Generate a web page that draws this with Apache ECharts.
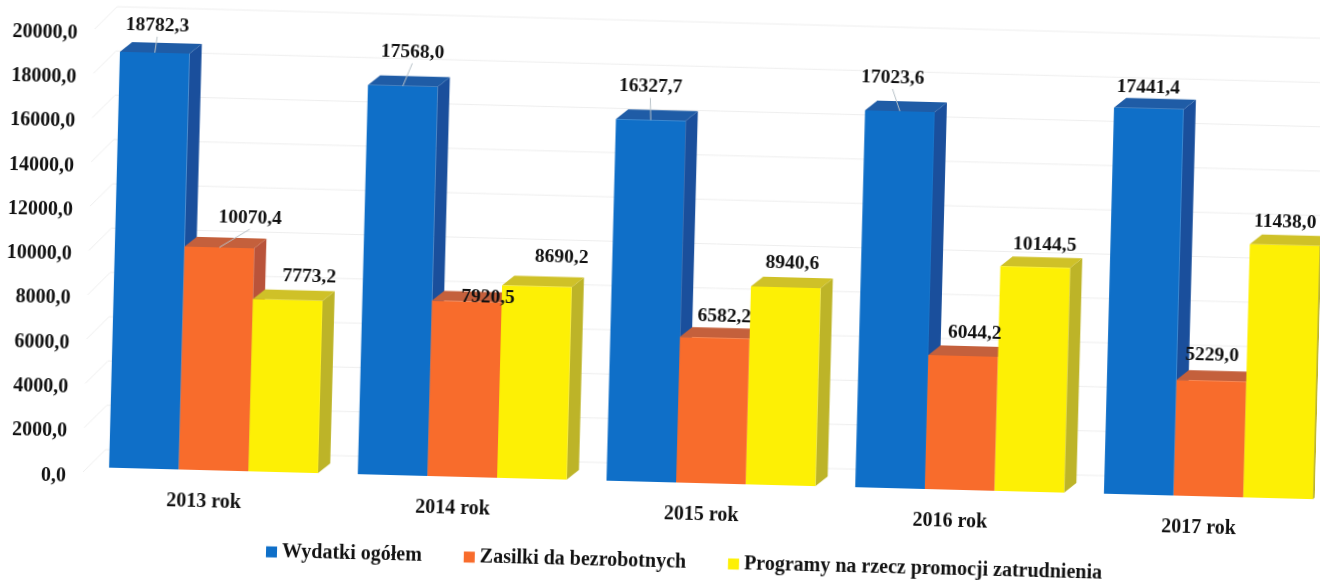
<!DOCTYPE html>
<html>
<head>
<meta charset="utf-8">
<style>
html,body{margin:0;padding:0;background:#fff;overflow:hidden;width:1320px;height:580px}
#c{position:absolute;left:0;top:0;width:1320px;height:580px;transform:rotate(1.5deg);transform-origin:660px 290px}
</style>
<script src="https://cdn.jsdelivr.net/npm/echarts@6/dist/echarts.min.js"></script>
</head>
<body>
<div id="c"></div>
<script>
const categories = ['2013 rok','2014 rok','2015 rok','2016 rok','2017 rok'];
const wydatki  = [18782.3,17568.0,16327.7,17023.6,17441.4];
const zasilki  = [10070.4,7920.5,6582.2,6044.2,5229.0];
const programy = [7773.2,8690.2,8940.6,10144.5,11438.0];
const yTicks = [0,2000,4000,6000,8000,10000,12000,14000,16000,18000,20000];
const seriesNames = ['Wydatki ogółem','Zasilki da bezrobotnych','Programy na rzecz promocji zatrudnienia'];

const palette = [
  {front:'#0f6fc8',top:'#1f5ca6',side:'#1a4f9c'},
  {front:'#f86c2c',top:'#c4603c',side:'#b9533a'},
  {front:'#fdf005',top:'#cfc128',side:'#bdb428'}
];
const labelShift = [
  [[2,-27],[9,-34],[-1,-33],[-8,-33],[-1,-21]],
  [[30,-30],[21,-5],[9,-21],[11,-23],[0,-25]],
  [[21,-24],[24,-30],[6,-24],[9,-22],[0,-23]]
];
const font = 'bold 19.5px "Liberation Serif"';
const fmt = v => v.toFixed(1).replace('.',',');
const depthX = 12, depthY = 10, barShift = 9;

function barRenderer(idx){
  const c = palette[idx];
  return function(params, api){
    const i = api.value(0), v = api.value(1);
    const p = api.coord([i,v]), base = api.coord([i,0]);
    const w = api.size([1,0])[0]*0.28;
    const x0 = p[0]+barShift+(idx-1.5)*w, x1 = x0+w, y = p[1], y0 = base[1];
    const s = labelShift[idx][params.dataIndex];
    const cx = (x0+x1)/2;
    const children = [
      {type:'polygon',shape:{points:[[x1,y],[x1+depthX,y-depthY],[x1+depthX,y0-depthY],[x1,y0]]},style:{fill:c.side}},
      {type:'polygon',shape:{points:[[x0,y],[x1,y],[x1+depthX,y-depthY],[x0+depthX,y-depthY]]},style:{fill:c.top}},
      {type:'rect',shape:{x:x0,y:y,width:w,height:y0-y},style:{fill:c.front}}
    ];
    if(idx<2 && s[1]<=-26){
      children.push({type:'line',shape:{x1:cx+s[0],y1:y+s[1]+11,x2:cx,y2:y},style:{stroke:'#b8c2c8',lineWidth:1}});
    }
    children.push({type:'text',style:{text:fmt(v),x:cx+s[0],y:y+s[1],font:font,fill:'#111',align:'center',verticalAlign:'middle'},z2:10});
    return {type:'group',children:children};
  };
}
function wallRenderer(params, api){
  const v = api.value(0);
  const y = api.coord([0,v])[1];
  const cs = params.coordSys;
  return {type:'group',children:[
    {type:'polyline',shape:{points:[[cs.x+3,y+5],[cs.x+25,y-18],[cs.x+cs.width,y-18]]},style:{stroke:'#eeeeee',lineWidth:1,fill:'none'}}
  ]};
}
function barSeries(idx,values){
  return {name:seriesNames[idx],type:'custom',renderItem:barRenderer(idx),
    encode:{x:0,y:1},data:values.map((v,i)=>[i,v]),itemStyle:{color:palette[idx].front},clip:false,z:3};
}
const chart = echarts.init(document.getElementById('c'));
chart.setOption({
  animation:false,
  backgroundColor:'transparent',
  grid:{left:85,top:39,width:1244,height:443,containLabel:false,outerBoundsMode:'none'},
  legend:{data:seriesNames,left:268,top:547,itemWidth:11,itemHeight:11,itemGap:42,icon:'rect',
    textStyle:{fontFamily:'Liberation Serif',fontWeight:'bold',fontSize:20,color:'#111'}},
  xAxis:{type:'category',data:categories,axisTick:{show:false},axisLine:{show:false},
    axisLabel:{fontFamily:'Liberation Serif',fontWeight:'bold',fontSize:20,color:'#111',margin:22}},
  yAxis:{type:'value',min:0,max:20000,interval:2000,axisLine:{show:false},axisTick:{show:false},splitLine:{show:false},
    axisLabel:{fontFamily:'Liberation Serif',fontWeight:'bold',fontSize:20,color:'#111',margin:14,verticalAlign:'top',lineHeight:19,formatter:v=>fmt(v)}},
  series:[
    {name:'wall',type:'custom',renderItem:wallRenderer,encode:{y:0},data:yTicks.map(v=>[v]),silent:true,clip:false,z:1},
    barSeries(0,wydatki),barSeries(1,zasilki),barSeries(2,programy)
  ]
});
</script>
</body>
</html>
